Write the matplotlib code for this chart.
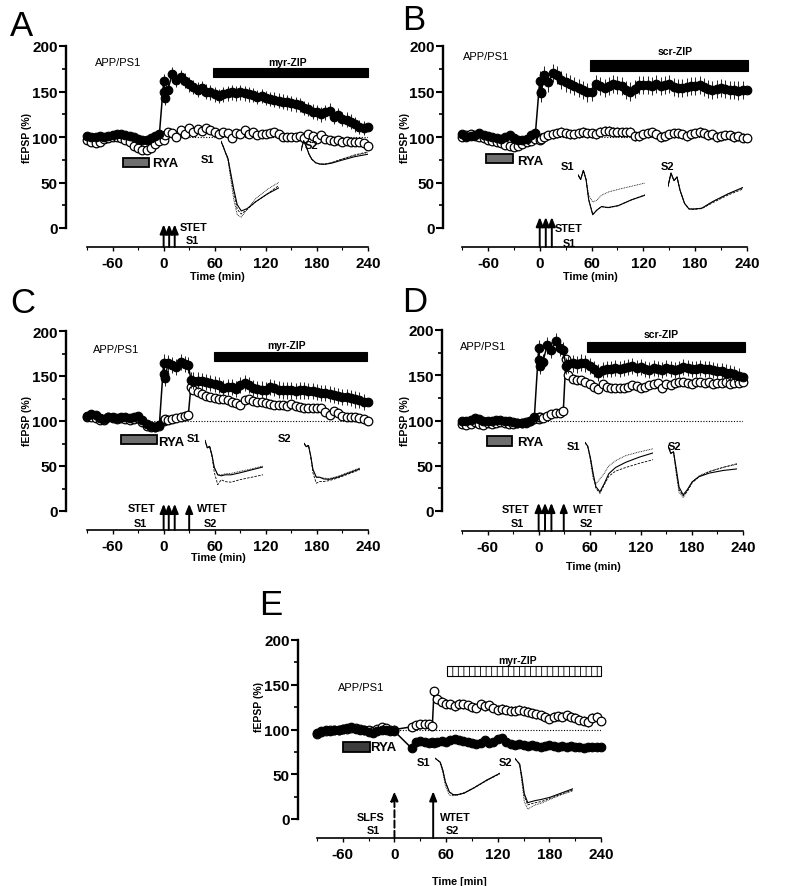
import numpy as np
import matplotlib
matplotlib.use("Agg")
import matplotlib.pyplot as plt
from matplotlib.patches import Rectangle

plt.rcParams['font.family'] = ['Liberation Sans', 'DejaVu Sans']
plt.rcParams['axes.unicode_minus'] = False
plt.rcParams['hatch.linewidth'] = 0.6

# ====================== DATA ======================
base_t = np.arange(-90, 0, 5)                                   # baseline sampling (min)
post_t_AB = np.r_[0, 1, 2, np.arange(5, 245, 5)]
post_t_CD = np.r_[0, 1, 2, 5, 10, 15, 20, 25, 29, 32, np.arange(35, 245, 5)]
post_t_E = np.r_[0, 20, 25, 30, 35, 40, 44, 46, np.arange(50, 245, 5)]

xticks_major = [-60, 0, 60, 120, 180, 240]
yticks_major = [0, 50, 100, 150, 200]

# --- Panel A ---
A_filled_base = [101, 100, 100, 101, 100, 101, 102, 103, 103, 102, 101, 100, 98, 97, 97, 99, 101, 103]
A_filled_post = [161, 149, 143,
                 152, 169, 163, 166, 162, 158, 155, 152, 154, 150,
                 149, 147, 145, 147, 148, 149, 148, 149, 148, 147,
                 146, 144, 145, 143, 142, 141, 140, 139, 138, 137,
                 136, 135, 132, 131, 128, 127, 125, 127, 129, 122,
                 124, 120, 119, 117, 114, 111, 110, 111]
A_open_base = [97, 94, 93, 95, 98, 99, 100, 100, 99, 97, 95, 90, 88, 86, 86, 88, 92, 96]
A_open_post = [100, 97, 102,
               106, 104, 100, 108, 103, 110, 106, 109, 107, 110,
               108, 106, 103, 105, 104, 99, 104, 103, 108, 103,
               105, 102, 103, 103, 104, 105, 103, 100, 100, 100,
               100, 101, 99, 103, 101, 98, 102, 98, 97, 96,
               97, 95, 96, 95, 95, 94, 93, 90]
A_sem = dict(fb=2, fp=8, ob=3, op=3)

# --- Panel B ---
B_filled_base = [103, 100, 101, 102, 104, 102, 101, 100, 99, 98, 100, 102, 99, 97, 97, 98, 102, 104]
B_filled_post = [162, 148, 150,
                 168, 160, 170, 168, 163, 160, 158, 156, 154, 152,
                 149, 150, 158, 156, 154, 156, 158, 157, 156, 152,
                 150, 153, 157, 157, 157, 156, 158, 156, 157, 158,
                 155, 154, 154, 155, 156, 156, 157, 155, 153, 152,
                 153, 154, 153, 152, 152, 151, 152, 152]
B_open_base = [100, 102, 103, 101, 100, 99, 97, 96, 95, 93, 91, 90, 89, 90, 92, 95, 96, 98]
B_open_post = [97, 99, 98,
               100, 102, 103, 104, 106, 104, 103, 103, 104, 106,
               104, 104, 103, 106, 107, 107, 106, 106, 105, 105,
               106, 101, 101, 103, 104, 105, 103, 100, 101, 103,
               104, 104, 103, 101, 103, 104, 106, 104, 102, 103,
               100, 101, 102, 102, 100, 101, 99, 99]
B_sem = dict(fb=3, fp=10, ob=4, op=5)

# --- Panel C ---
C_filled_base = [106, 108, 107, 103, 102, 105, 104, 103, 104, 104, 103, 104, 106, 101, 97, 94, 93, 96]
C_filled_post = [165, 152, 148, 164, 162, 160, 166, 163, 162, 146,
                 145, 145, 144, 143, 142, 141, 140, 137, 138, 138,
                 136, 140, 142, 140, 137, 136, 135, 134, 138, 137,
                 135, 134, 134, 134, 133, 134, 134, 133, 133, 132,
                 131, 131, 130, 129, 128, 127, 127, 126, 124, 123,
                 121, 121]
C_open_base = [104, 105, 103, 101, 101, 104, 103, 102, 103, 102, 101, 102, 103, 99, 95, 93, 93, 95]
C_open_post = [100, 101, 102, 101, 102, 103, 104, 106, 107, 138,
               135, 132, 130, 128, 127, 126, 125, 124, 123, 121,
               120, 118, 123, 124, 122, 121, 121, 120, 119, 118,
               118, 118, 117, 119, 117, 116, 115, 114, 115, 115,
               114, 110, 107, 111, 109, 106, 105, 104, 104, 103,
               102, 100]
C_sem = dict(fb=2, fp=9, ob=2, op=4)

# --- Panel D ---
D_filled_base = [100, 100, 101, 103, 102, 100, 99, 100, 101, 101, 100, 99, 98, 97, 97, 97, 99, 104]
D_filled_post = [180, 167, 160, 165, 183, 178, 188, 180, 178, 160,
                 162, 163, 162, 164, 163, 160, 157, 153, 156, 157,
                 157, 158, 157, 158, 159, 160, 158, 159, 157, 156,
                 158, 157, 156, 158, 157, 156, 157, 159, 158, 157,
                 157, 158, 157, 157, 156, 155, 155, 153, 152, 151,
                 149, 148]
D_open_base = [96, 95, 96, 98, 96, 95, 97, 96, 97, 98, 97, 96, 96, 97, 97, 98, 100, 102]
D_open_post = [102, 104, 104, 103, 105, 107, 108, 108, 111, 168,
               150, 146, 145, 145, 142, 140, 137, 135, 140, 137,
               136, 136, 136, 136, 137, 139, 138, 136, 137, 139,
               140, 141, 136, 140, 139, 141, 142, 142, 141, 140,
               143, 143, 141, 142, 140, 141, 141, 142, 140, 141,
               141, 143]
D_sem = dict(fb=2, fp=9, ob=2, op=3)

# --- Panel E ---
E_filled_base = [96, 98, 99, 98, 100, 99, 101, 102, 103, 101, 100, 99, 97, 96, 98, 99, 100, 98]
E_filled_post = [98, 79, 86, 87, 86, 85, 86, 85,
                 86, 87, 86, 88, 89, 88, 87, 86, 85, 84,
                 85, 88, 85, 86, 89, 90, 86, 84, 83, 84,
                 83, 82, 83, 82, 81, 82, 83, 82, 81, 82,
                 80, 82, 81, 80, 79, 80, 80, 81, 80]
E_open_base = [95, 97, 98, 99, 100, 100, 101, 101, 102, 102, 101, 100, 99, 98, 101, 103, 102, 100]
E_open_post = [100, 103, 105, 106, 106, 106, 104, 143,
               134, 131, 129, 128, 126, 129, 128, 127, 125, 124,
               128, 126, 127, 124, 122, 123, 122, 121, 121, 122,
               121, 120, 118, 117, 116, 114, 112, 114, 115, 114,
               116, 114, 113, 111, 110, 108, 113, 114, 110]
E_sem = dict(fb=2, fp=2, ob=2, op=5)

# drug-application bars (min) and stimulation times (min)
RYA_span = {'A': (-48, -17), 'B': (-62, -31), 'C': (-50, -8), 'D': (-61, -31), 'E': (-60, -28)}
ZIP_span = {'A': (58, 240), 'B': (58, 241), 'C': (59, 239), 'D': (57, 242), 'E': (61, 240)}
ZIP_name = {'A': 'myr-ZIP', 'B': 'scr-ZIP', 'C': 'myr-ZIP', 'D': 'scr-ZIP', 'E': 'myr-ZIP'}
stim_times = {'A': [0, 6.5, 13], 'B': [0, 7, 14], 'C': [0, 6, 13, 30], 'D': [0, 7.5, 15, 29.5], 'E': [0, 45]}

# example fEPSP traces (normalised, top = 1)
trace_x = [0, .04, .08, .12, .16, .22, .28, .35, .45, .6, .8, 1.0]
A_S1_solid = [1.0, .93, .85, .78, .62, .38, .18, .10, .13, .22, .32, .40]
A_S1_dash = [1.0, .93, .85, .78, .60, .34, .12, .06, .12, .22, .32, .43]
A_S1_dot = [1.0, .93, .84, .76, .55, .25, .05, .02, .12, .26, .38, .47]
A_S2_solid = [.6, 1.0, .75, .45, .25, .10, .05, .04, .08, .20, .35, .45]
A_S2_dash = [.6, 1.0, .75, .45, .25, .10, .05, .04, .10, .24, .42, .55]
A_S2_dot = [.6, 1.0, .75, .45, .25, .10, .05, .05, .10, .24, .40, .52]
B_S1_solid = [.9, .8, 1.0, .8, .35, .02, .12, .20, .18, .22, .35, .45]
B_S1_dash = [.9, .8, 1.0, .8, .35, .03, .12, .20, .17, .22, .35, .46]
B_S1_dot = [.9, .8, 1.0, .8, .45, .30, .34, .45, .52, .58, .65, .72]
B_S2_solid = [.65, 1.0, .8, .9, .55, .20, .05, .05, .07, .25, .45, .62]
B_S2_dash = [.65, 1.0, .8, .9, .55, .20, .05, .04, .06, .22, .42, .58]
B_S2_dot = [.65, 1.0, .8, .9, .55, .20, .05, .05, .07, .25, .45, .62]
C_S1_solid = [1.0, .85, .88, .70, .45, .30, .28, .30, .30, .34, .40, .46]
C_S1_dash = [1.0, .85, .88, .68, .35, .10, .20, .16, .15, .20, .25, .30]
C_S1_dot = [1.0, .85, .88, .70, .45, .30, .30, .32, .33, .37, .42, .48]
C_S2_solid = [1.0, .92, .95, .70, .38, .20, .20, .16, .15, .20, .30, .40]
C_S2_dash = [1.0, .92, .95, .68, .30, .06, .10, .10, .12, .18, .28, .38]
C_S2_dot = [1.0, .92, .95, .70, .38, .20, .20, .18, .17, .22, .32, .42]
D_S1_solid = [1.0, .93, .70, .40, .15, .05, .20, .40, .52, .62, .72, .80]
D_S1_dash = [1.0, .93, .70, .38, .12, .02, .18, .35, .45, .52, .60, .67]
D_S1_dot = [1.0, .93, .65, .30, .20, .30, .40, .55, .65, .75, .82, .88]
D_S2_solid = [1.0, .85, .88, .55, .20, .05, .15, .30, .40, .47, .52, .55]
D_S2_dash = [1.0, .85, .88, .50, .15, .03, .12, .28, .40, .50, .58, .65]
D_S2_dot = [1.0, .85, .88, .45, .10, .00, .12, .30, .42, .50, .58, .64]
E_S1_solid = [1.0, .95, .90, .70, .40, .15, .08, .08, .12, .25, .45, .62]
E_S1_dash = [1.0, .95, .90, .70, .40, .15, .07, .07, .12, .25, .44, .61]
E_S1_dot = [1.0, .95, .88, .65, .30, .07, .05, .08, .13, .26, .45, .62]
E_S2_solid = [1.0, .95, .90, .65, .35, .18, .20, .22, .24, .28, .36, .44]
E_S2_dash = [1.0, .95, .90, .62, .30, .14, .16, .18, .20, .26, .34, .42]
E_S2_dot = [1.0, .95, .88, .55, .20, .06, .10, .14, .17, .24, .33, .40]

# ====================== LAYOUT (pixels) ======================
W, H = 793, 887
fig = plt.figure(figsize=(W / 100, H / 100), dpi=100)

PANELS = {
    'A': dict(x0=87, x1=368, y0=229, y200=47, yaxis=248, spine=66),
    'B': dict(x0=462, x1=747, y0=229, y200=47, yaxis=248, spine=443),
    'C': dict(x0=87, x1=368, y0=512, y200=332, yaxis=531, spine=66),
    'D': dict(x0=462, x1=743, y0=512, y200=331, yaxis=532, spine=442),
    'E': dict(x0=317, x1=601, y0=820, y200=641, yaxis=839, spine=298),
}


def ftext(x, y, s, **kw):
    return fig.text(x / W, 1 - y / H, s, **kw)


def make_axes(L):
    ax = fig.add_axes([L['x0'] / W, 1 - L['yaxis'] / H, (L['x1'] - L['x0']) / W,
                       (L['yaxis'] - L['y200']) / H])
    ybot = -(L['yaxis'] - L['y0']) / (L['y0'] - L['y200']) * 200
    ax.set_xlim(-90, 240)
    ax.set_ylim(ybot, 200)
    ax.patch.set_visible(False)
    for s in ('top', 'right'):
        ax.spines[s].set_visible(False)
    ax.spines['left'].set_position(('outward', (L['x0'] - L['spine']) * 0.72))
    ax.spines['left'].set_bounds(0, 200)
    ax.spines['left'].set_linewidth(1.7)
    ax.spines['bottom'].set_bounds(-90, 240)
    ax.spines['bottom'].set_linewidth(1.2)
    ax.set_xticks(xticks_major)
    ax.set_xticks([-90, -30, 30, 90, 150, 210], minor=True)
    ax.set_yticks(yticks_major)
    ax.set_yticks([25, 75, 125, 175], minor=True)
    ax.tick_params(axis='y', which='major', length=5, width=1.5, pad=1, labelsize=11)
    ax.tick_params(axis='y', which='minor', length=3, width=1.2)
    ax.tick_params(axis='x', which='major', length=3, width=1.0, pad=3.5, labelsize=11)
    ax.tick_params(axis='x', which='minor', length=2, width=0.8)
    for lab in ax.get_xticklabels() + ax.get_yticklabels():
        lab.set_fontweight('bold')
    return ax


def draw_series(ax, tb, tp, vb, vp, sem, filled):
    t = np.r_[tb, tp]
    v = np.r_[vb, vp]
    key = 'f' if filled else 'o'
    err = np.r_[np.full(len(tb), sem[key + 'b']), np.full(len(tp), sem[key + 'p'])]
    z = 5 if filled else 3
    ax.errorbar(t, v, yerr=err, fmt='none', ecolor='#222222', elinewidth=0.7, capsize=0, zorder=z)
    ax.plot(t, v, '-', color='k', lw=1.1, zorder=z + 0.1)
    if filled:
        ax.plot(t, v, 'o', ms=6.2, mfc='k', mec='k', mew=0.8, zorder=z + 0.2, clip_on=False)
    else:
        ax.plot(t, v, 'o', ms=6.2, mfc='white', mec='k', mew=0.9, zorder=z + 0.2, clip_on=False)


def draw_traces(box, solid, dash, dot):
    l, t, r, b = box
    ia = fig.add_axes([l / W, 1 - b / H, (r - l) / W, (b - t) / H])
    ia.set_xlim(0, 1)
    ia.set_ylim(-0.03, 1.03)
    ia.axis('off')
    ia.plot(trace_x, dot, color='k', lw=0.6, ls=(0, (1, 1)))
    ia.plot(trace_x, dash, color='k', lw=0.6, ls=(0, (3, 1.5)))
    ia.plot(trace_x, solid, color='k', lw=0.8)


def arrow(ax, t, tip, dashed=False):
    ybot = ax.get_ylim()[0]
    ax.annotate('', xy=(t, tip), xytext=(t, ybot),
                arrowprops=dict(arrowstyle='-|>,head_length=0.55,head_width=0.22',
                                color='k', lw=1.4, shrinkA=0, shrinkB=0,
                                ls='--' if dashed else '-'),
                annotation_clip=False)


series = {
    'A': (post_t_AB, A_filled_base, A_filled_post, A_open_base, A_open_post, A_sem),
    'B': (post_t_AB, B_filled_base, B_filled_post, B_open_base, B_open_post, B_sem),
    'C': (post_t_CD, C_filled_base, C_filled_post, C_open_base, C_open_post, C_sem),
    'D': (post_t_CD, D_filled_base, D_filled_post, D_open_base, D_open_post, D_sem),
    'E': (post_t_E, E_filled_base, E_filled_post, E_open_base, E_open_post, E_sem),
}
traces = {
    'A': ((221, 140, 279, 222), (A_S1_solid, A_S1_dash, A_S1_dot), (301, 141, 368, 167), (A_S2_solid, A_S2_dash, A_S2_dot)),
    'B': ((578, 170, 645, 218), (B_S1_solid, B_S1_dash, B_S1_dot), (668, 173, 743, 213), (B_S2_solid, B_S2_dash, B_S2_dot)),
    'C': ((205, 440, 263, 492), (C_S1_solid, C_S1_dash, C_S1_dot), (304, 443, 360, 488), (C_S2_solid, C_S2_dash, C_S2_dot)),
    'D': ((585, 442, 653, 497), (D_S1_solid, D_S1_dash, D_S1_dot), (668, 445, 737, 500), (D_S2_solid, D_S2_dash, D_S2_dot)),
    'E': ((435, 758, 500, 800), (E_S1_solid, E_S1_dash, E_S1_dot), (515, 758, 573, 815), (E_S2_solid, E_S2_dash, E_S2_dot)),
}
bar_y = {'A': ((67, 77), (166, 176)), 'B': ((71, 81), (173, 185)), 'C': ((74, 84), (167, 177)),
         'D': ((72, 83), (176, 187)), 'E': ((75, 86), (160, 171))}
arrow_tip = {'A': 4, 'B': 12, 'C': 8, 'D': 9, 'E': 31}
dotted_start = {'A': 0, 'B': 0, 'C': -15, 'D': 0, 'E': 0}

# text positions (pixels)
letters = {'A': (10, 36), 'B': (402, 30), 'C': (10, 313), 'D': (402, 312), 'E': (259, 615)}
app_pos = {'A': (95, 63), 'B': (463, 57), 'C': (93, 350), 'D': (460, 347), 'E': (338, 688)}
zip_pos = {'A': (288, 63), 'B': (675, 52), 'C': (287, 346), 'D': (661, 335), 'E': (518, 661)}
rya_pos = {'A': (152, 164), 'B': (517, 162), 'C': (158, 443), 'D': (517, 443), 'E': (370, 748)}
s_pos = {'A': ((207, 160), (312, 146)), 'B': ((567, 167), (668, 167)), 'C': ((193, 439), (285, 439)),
         'D': ((573, 447), (675, 447)), 'E': ((423, 763), (506, 763))}
time_pos = {'A': (217, 277), 'B': (590, 277), 'C': (218, 558), 'D': (593, 567), 'E': (459, 882)}
ylab_pos = {'A': (27, 138), 'B': (405, 138), 'C': (27, 421), 'D': (405, 421), 'E': (259, 707)}
stim_text = {
    'A': [((194, 228), 'STET'), ((192, 241), 'S1')],
    'B': [((569, 229), 'STET'), ((569, 244), 'S1')],
    'C': [((142, 509), 'STET'), ((140, 524), 'S1'), ((212, 509), 'WTET'), ((210, 524), 'S2')],
    'D': [((516, 510), 'STET'), ((517, 524), 'S1'), ((588, 510), 'WTET'), ((586, 524), 'S2')],
    'E': [((371, 818), 'SLFS'), ((373, 831), 'S1'), ((455, 818), 'WTET'), ((452, 831), 'S2')],
}

for key in 'ABCDE':
    L = PANELS[key]
    ax = make_axes(L)
    tp, fb, fpv, ob, opv, sem = series[key]
    ax.plot([dotted_start[key], 240], [100, 100], color='k', lw=0.8, ls=(0, (1, 1.5)), zorder=1)
    draw_series(ax, base_t, tp, ob, opv, sem, filled=False)
    draw_series(ax, base_t, tp, fb, fpv, sem, filled=True)

    # RYA bar
    r0, r1 = RYA_span[key]
    (ry0, ry1), (zy0, zy1) = bar_y[key]
    ax.add_patch(Rectangle((r0, ry0), r1 - r0, ry1 - ry0,
                           facecolor='#3c3c3c' if key == 'E' else '#6e6e6e',
                           edgecolor='k', lw=1.3, zorder=6, clip_on=False))
    # ZIP bar
    z0, z1 = ZIP_span[key]
    if key == 'E':
        ax.add_patch(Rectangle((z0, zy0), z1 - z0, zy1 - zy0, facecolor='white',
                               edgecolor='k', lw=0.8, hatch='|||', zorder=6, clip_on=False))
    else:
        ax.add_patch(Rectangle((z0, zy0), z1 - z0, zy1 - zy0, facecolor='k',
                               edgecolor='k', lw=0.8, zorder=6, clip_on=False))

    # stimulation arrows
    for i, ts in enumerate(stim_times[key]):
        arrow(ax, ts, arrow_tip[key], dashed=(key == 'E' and i == 0))

    # traces
    b1, tr1, b2, tr2 = traces[key]
    draw_traces(b1, *tr1)
    draw_traces(b2, *tr2)

    # texts
    lx, ly = letters[key]
    ftext(lx, ly, key, fontsize=25, ha='left', va='baseline')
    ftext(*app_pos[key], 'APP/PS1', fontsize=8, ha='left', va='center')
    ftext(*zip_pos[key], ZIP_name[key], fontsize=7.5, fontweight='bold', ha='center', va='center')
    ftext(*rya_pos[key], 'RYA', fontsize=9.5, fontweight='bold', ha='left', va='center')
    (s1x, s1y), (s2x, s2y) = s_pos[key]
    ftext(s1x, s1y, 'S1', fontsize=8, fontweight='bold', ha='center', va='center')
    ftext(s2x, s2y, 'S2', fontsize=8, fontweight='bold', ha='center', va='center')
    for (px, py), s in stim_text[key]:
        ftext(px, py, s, fontsize=7.8, fontweight='bold', ha='center', va='center')
    ftext(*time_pos[key], 'Time [min]' if key == 'E' else 'Time (min)',
          fontsize=7.8, fontweight='bold', ha='center', va='center')
    ftext(*ylab_pos[key], 'fEPSP (%)', fontsize=7.5, fontweight='bold', ha='center',
          va='center', rotation=90)

fig.savefig('out.png', dpi=100)
